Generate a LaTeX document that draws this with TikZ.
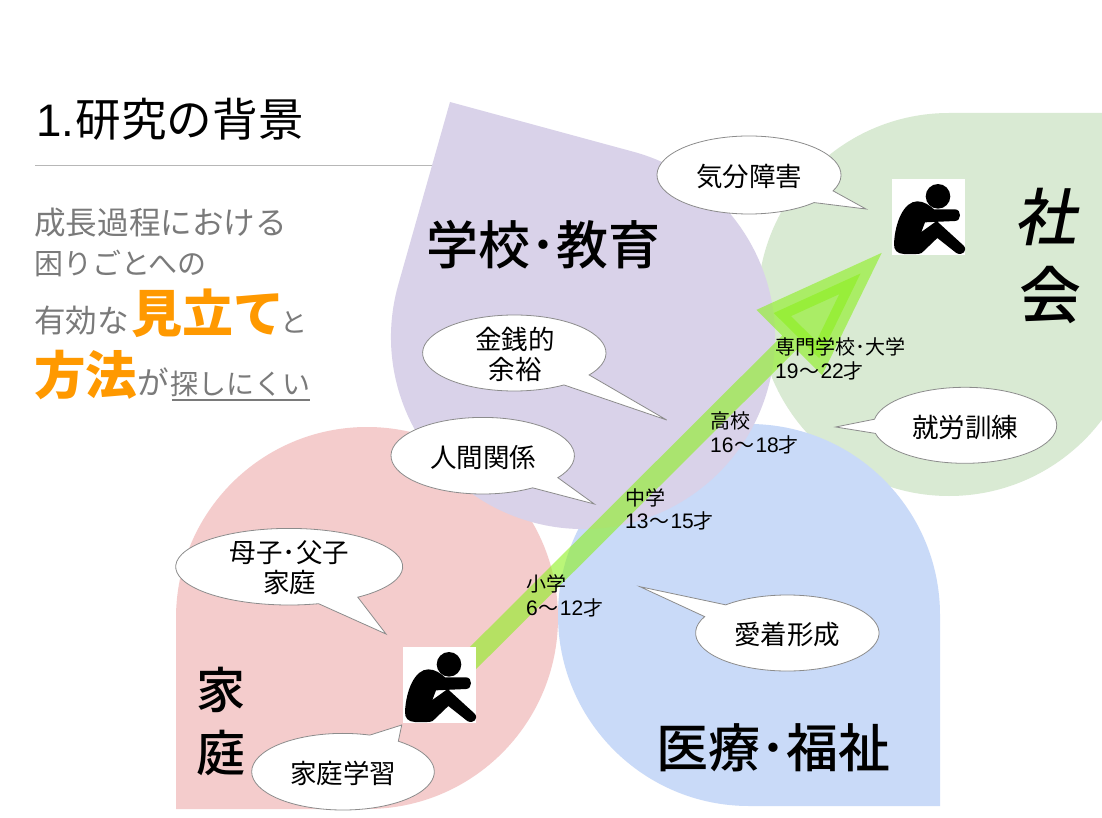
\documentclass[tikz,border=0pt]{standalone}
\usepackage{fontspec}
\setmainfont{Noto Sans CJK JP}
\newfontfamily\lat{Liberation Sans}
\newfontfamily\cjkmed{Noto Sans CJK JP Medium}
\newfontfamily\slantcjk[FakeSlant=0.2]{Noto Sans CJK JP Medium}
\definecolor{cpurple}{HTML}{D9D2E9}
\definecolor{cpink}{HTML}{F4CCCC}
\definecolor{cgreen}{HTML}{D9EAD3}
\definecolor{cblue}{HTML}{C9DAF8}
\definecolor{crule}{HTML}{B7B7B7}
\definecolor{cgray}{HTML}{7A7A7A}
\definecolor{corange}{HTML}{FF9900}
\definecolor{carrow}{HTML}{8CF01E}
\definecolor{cedge}{HTML}{8C8C8C}
\newcommand\fs[1]{\fontsize{#1}{#1}\selectfont}
\newcommand\dig[1]{{\lat\fontsize{21}{23.5}\selectfont #1}}
\tikzset{
  bubble/.style={draw=cedge,line width=.8pt,fill=white,line join=miter},
  bubbletext/.style={inner sep=0pt,align=center,font=\fontsize{26.5}{30}\selectfont},
  agetext/.style={inner sep=0pt,anchor=base west,align=left,font=\fontsize{20}{23.5}\selectfont},
  biglabel/.style={inner sep=0pt,font=\fs{52}\cjkmed},
  leftline/.style={inner sep=0pt,anchor=base west,text=cgray,font=\fs{31.6}},
  iconbox/.style={fill=white,inner sep=0pt,minimum width=73.5pt,minimum height=76pt},
  arrowband/.style={draw=carrow,draw opacity=.6,line width=20pt},
}
% callout: centre, radii, start angle, end angle, tail tip
\newcommand\callout[8]{%
  \draw[bubble] (#1,#2) ++(#5:#3pt and #4pt)
    arc[start angle=#5,end angle=#6,x radius=#3pt,y radius=#4pt]
    -- (#7,#8) -- cycle;}
% seated figure, drawn in coordinates 3x the pixel size
\newcommand\seated[2]{%
  \begin{scope}[shift={(#1,#2)},x=1pt/3,y=-1pt/3]
    \fill[black] (207,133) circle[radius=12.3pt];
    \fill[black] (75,275) .. controls (78,210) and (105,148) .. (145,148)
      .. controls (165,148) and (182,160) .. (195,172)
      -- (258,172) .. controls (278,172) and (278,207) .. (258,207)
      -- (168,211) -- (157,240) -- (203,207)
      -- (283,280) .. controls (298,295) and (280,313) .. (262,303)
      -- (205,258) -- (158,303) .. controls (150,307) and (130,307) .. (105,306)
      .. controls (85,305) and (74,295) .. (75,275) -- cycle;
  \end{scope}}
\begin{document}
\begin{tikzpicture}[x=1pt,y=-1pt]
\clip (0,0) rectangle (1102,818);
\fill[white] (0,0) rectangle (1102,818);
% header rule
\coordinate (ruleL) at (35,166); \coordinate (ruleR) at (440,166);
\draw[crule,line width=1pt] (ruleL) -- (ruleR);
% teardrops
\fill[cgreen] (1140.5,113) -- (1140.5,304.5) arc[start angle=0,delta angle=-270,radius=191.5pt] -- cycle;
\fill[cpink] (176,809) -- (176,618) arc[start angle=180,delta angle=-270,radius=191pt] -- cycle;
\fill[cblue] (940,806) -- (749,806) arc[start angle=270,delta angle=-270,radius=191pt] -- cycle;
\fill[cpurple] (450,102) -- (634.3,152) arc[start angle=74.5,delta angle=-270,radius=192pt] -- cycle;
% growth arrow
\coordinate (tail) at (450,681);
\coordinate (headbase) at (789.5,342.5);
\coordinate (tipC) at (860.5,273.5);
\coordinate (leftC) at (773.7,313);
\coordinate (lowC) at (819.2,358.2);
\draw[arrowband] (tail) -- (headbase);
\fill[carrow,fill opacity=.6] (tipC) -- (leftC) -- (lowC) -- cycle;
\draw[arrowband,line join=miter,miter limit=10] (tipC) -- (leftC) -- (lowC) -- cycle;
% figures
\node[iconbox,anchor=north west] (figA) at (402.7,646.7) {};
\node[iconbox,anchor=north west] (figB) at (891.7,178.7) {};
\seated{380}{620}
\seated{869}{152}
% callouts
\callout{749}{175}{92}{39}{-24}{315}{866}{209}
\callout{514.3}{353}{91.7}{38}{-35.3}{302.8}{666.7}{420}
\callout{482.7}{455.7}{91.7}{38.3}{-35}{303}{594.3}{504}
\callout{289.2}{566.7}{113.5}{38.3}{-52.8}{285}{386}{634}
\callout{343}{771.7}{91.3}{38.3}{72.9}{412.7}{401.7}{725}
\callout{787.3}{633}{91.7}{38}{154.4}{492.2}{640}{586.7}
\callout{965}{425.3}{91.7}{38}{192.3}{530.8}{835.7}{427}
% callout texts
\node[bubbletext] (t1) at (749,177) {気分障害};
\node[bubbletext] (t2) at (515,354.5) {金銭的\\余裕};
\node[bubbletext] (t3) at (483,457.5) {人間関係};
\node[bubbletext] (t4) at (289.5,567.5) {母子･父子\\家庭};
\node[bubbletext] (t5) at (343,773) {家庭学習};
\node[bubbletext] (t6) at (787,634.5) {愛着形成};
\node[bubbletext] (t7) at (965,427) {就労訓練};
% area labels
\node[biglabel] (school) at (543,245) {学校･教育};
\node[biglabel] (care) at (773,748) {医療･福祉};
\node[inner sep=0pt,font=\fs{62}\slantcjk] (soc1) at (1045,217) {社};
\node[inner sep=0pt,font=\fs{62}\cjkmed] (soc2) at (1050,295) {会};
\node[inner sep=0pt,font=\fs{49}\cjkmed] (home1) at (221,690) {家};
\node[inner sep=0pt,font=\fs{49}\cjkmed] (home2) at (221,753) {庭};
% ages
\node[agetext] (a1) at (526,615) {小学\\\dig{6}\kern1pt～\kern1pt\dig{12}才};
\node[agetext] (a2) at (625,528.5) {中学\\\dig{13}\kern1pt～\kern1pt\dig{15}才};
\node[agetext] (a3) at (710,452) {高校\\\dig{16}\kern1pt～\kern1pt\dig{18}才};
\node[agetext] (a4) at (775,378) {専門学校･大学\\\dig{19}\kern1pt～\kern1pt\dig{22}才};
% title and left text
\node[inner sep=0pt,anchor=base west,font=\fs{45.6}] (title) at (36,136.5) {{\lat 1.}\kern1.5pt研究の背景};
\node[leftline] (l1) at (34,235) {成長過程における};
\node[leftline,font=\fs{29}] (l2) at (34,274) {困りごとへの};
\node[leftline] (l3) at (34,332) {有効な\kern2pt{\color{corange}\fs{51}\bfseries 見立て}\kern-4pt{\fs{27}と}};
\node[leftline] (l4) at (34,394) {{\color{corange}\fs{51.5}\bfseries 方法}が\kern2pt{\fs{28}探しにくい}};
\coordinate (ulL) at (172,399.5); \coordinate (ulR) at (310,399.5);
\draw[cgray,line width=2pt] (ulL) -- (ulR);
\end{tikzpicture}
\end{document}
